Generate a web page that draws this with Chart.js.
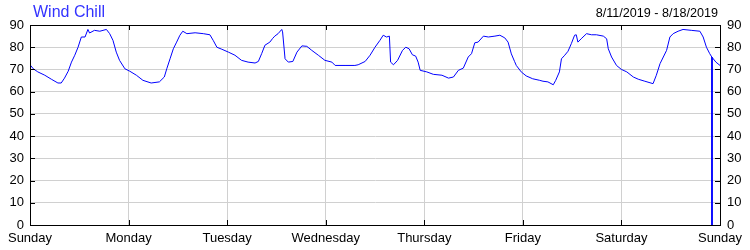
<!DOCTYPE html>
<html>
<head>
<meta charset="utf-8">
<script src="https://cdn.jsdelivr.net/npm/chart.js@4"></script>
<style>
  html, body { margin: 0; padding: 0; background: #fff; }
  #wrap { width: 750px; height: 250px; position: relative; }
</style>
</head>
<body>
<div id="wrap"><canvas id="c" width="750" height="250"></canvas></div>
<script>
const chartTitle = 'Wind Chill';
const dateRange = '8/11/2019 - 8/18/2019';
const dayLabels = ['Sunday', 'Monday', 'Tuesday', 'Wednesday', 'Thursday', 'Friday', 'Saturday', 'Sunday'];
const yTickValues = [0, 10, 20, 30, 40, 50, 60, 70, 80, 90];

// hours since start of week (Sunday 00:00)
const hours = [
  0, 0.8, 1.9, 3.6, 5.2, 6.8, 7.6, 8.4, 9.3, 10.1, 10.9, 11.7, 12.5, 13.4, 14.1, 14.5, 15.7, 17.0, 18.6, 19.4,
  20.2, 21.0, 21.8, 23.1, 24.3, 25.9, 27.5, 29.5, 31.5, 32.7, 33.3, 34.1, 34.9, 35.7, 36.5, 37.2, 38.2, 40.2, 42.2, 43.8,
  44.6, 45.5, 46.7, 48.3, 49.9, 51.5, 53.1, 54.8, 55.6, 56.4, 57.2, 58.4, 59.1, 59.6, 60.4, 61.3, 61.5, 62.1, 62.9, 64.0,
  65.0, 66.2, 67.4, 68.6, 70.2, 71.8, 73.5, 74.3, 76.7, 79.1, 79.9, 81.6, 82.8, 84.0, 85.2, 86.0, 86.8, 87.5, 87.8, 88.5,
  89.5, 90.7, 91.5, 92.3, 93.1, 93.9, 94.5, 95.0, 96.6, 98.2, 100.3, 101.9, 103.1, 104.3, 105.5, 106.7, 107.5, 108.3, 109.1, 110.4,
  111.6, 113.2, 114.4, 115.6, 116.4, 117.2, 118.0, 118.4, 119.6, 120.8, 122.4, 124.1, 124.9, 126.1, 127.4, 128.0, 128.9, 129.4, 130.2, 131.0,
  131.8, 132.6, 133.0, 133.4, 134.2, 135.5, 136.7, 137.9, 139.6, 140.4, 140.8, 141.6, 142.8, 144.0, 145.3, 146.9, 148.1, 149.7, 151.7, 152.5,
  153.4, 154.2, 155.0, 155.8, 156.6, 157.8, 159.0, 161.0, 163.1, 163.9, 164.7, 165.5, 166.0, 166.05, 166.1, 167.0, 168.0
];
const windChill = [
  72.1, 70.3, 68.9, 67.4, 65.6, 63.9, 63.9, 66.1, 69.2, 73.3, 76.4, 80.0, 84.6, 84.6, 88.0, 86.4, 87.6, 87.2, 88.0, 86.1,
  83.1, 77.8, 74.1, 70.3, 69.2, 67.4, 65.1, 63.9, 64.4, 66.6, 70.3, 74.8, 79.3, 82.3, 85.4, 87.2, 86.1, 86.5, 86.1, 85.6,
  83.1, 80.0, 79.1, 77.8, 76.4, 74.1, 73.3, 72.9, 73.6, 77.1, 80.9, 82.3, 84.0, 85.0, 86.1, 88.0, 86.9, 74.8, 73.3, 73.6,
  77.8, 80.6, 80.4, 78.6, 76.4, 74.1, 73.3, 71.8, 71.8, 71.8, 72.1, 73.6, 76.4, 80.0, 83.1, 85.4, 84.6, 85.0, 73.3, 72.1,
  74.1, 78.6, 80.0, 79.3, 76.6, 76.0, 73.3, 69.6, 68.9, 67.8, 67.4, 66.1, 66.6, 69.6, 70.6, 75.6, 77.1, 82.0, 82.3, 85.0,
  84.6, 85.0, 85.4, 84.2, 82.3, 77.0, 73.5, 71.8, 68.9, 67.1, 65.8, 65.1, 64.7, 64.4, 63.1, 65.1, 68.9, 74.8, 76.4, 78.2,
  81.6, 85.4, 85.6, 82.3, 83.8, 86.1, 85.6, 85.6, 85.0, 83.8, 79.3, 75.6, 71.8, 70.0, 68.9, 66.6, 65.6, 64.7, 63.6, 67.4,
  72.6, 75.6, 78.6, 84.6, 86.1, 87.2, 88.0, 87.6, 87.2, 84.6, 80.0, 77.1, 75.6, 0, 75.4, 73.3, 71.8
];

const FONT = 'Liberation Sans, Arial, sans-serif';

const framePlugin = {
  id: 'frame',
  afterDraw(chart) {
    const ctx = chart.ctx;
    const a = chart.chartArea;
    const xs = chart.scales.x, ys = chart.scales.y;
    ctx.save();
    ctx.strokeStyle = '#000';
    ctx.lineWidth = 1;
    ctx.strokeRect(Math.round(a.left) + 0.5, Math.round(a.top) + 0.5, Math.round(a.right - a.left), Math.round(a.bottom - a.top));
    ctx.beginPath();
    xs.ticks.forEach(t => {
      const px = Math.round(xs.getPixelForValue(t.value)) + 0.5;
      ctx.moveTo(px, a.top); ctx.lineTo(px, a.top + 5);
      ctx.moveTo(px, a.bottom); ctx.lineTo(px, a.bottom - 5);
    });
    ys.ticks.forEach(t => {
      const py = Math.round(ys.getPixelForValue(t.value)) + 0.5;
      ctx.moveTo(a.left, py); ctx.lineTo(a.left + 5, py);
      ctx.moveTo(a.right, py); ctx.lineTo(a.right - 5, py);
    });
    ctx.stroke();
    // titles
    ctx.textBaseline = 'alphabetic';
    ctx.fillStyle = '#3333ff';
    ctx.font = '16px ' + FONT;
    ctx.textAlign = 'left';
    ctx.fillText(chartTitle, 33, 17);
    ctx.fillStyle = '#000';
    ctx.font = '12.6px ' + FONT;
    ctx.textAlign = 'right';
    ctx.fillText(dateRange, 718, 17);
    ctx.restore();
  }
};

new Chart(document.getElementById('c'), {
  type: 'line',
  data: {
    datasets: [{
      data: hours.map((h, i) => ({ x: h, y: windChill[i] })),
      borderColor: '#0000ff',
      borderWidth: 1,
      pointRadius: 0,
      tension: 0,
      fill: false
    }]
  },
  options: {
    responsive: false,
    animation: false,
    layout: { padding: { top: 25, left: 0, right: 0, bottom: 0 } },
    plugins: { legend: { display: false }, tooltip: { enabled: false } },
    scales: {
      x: {
        type: 'linear', min: 0, max: 168,
        afterFit(s) { s.height = 25; },
        afterBuildTicks(s) { s.ticks = dayLabels.map((_, i) => ({ value: i * 24 })); },
        ticks: {
          autoSkip: false, maxRotation: 0, padding: 6,
          color: '#000', font: { family: FONT, size: 13 },
          callback: (v) => dayLabels[Math.round(v / 24)]
        },
        grid: { color: '#d0d0d0', drawTicks: false },
        border: { color: '#000' }
      },
      y: {
        min: 0, max: 90, position: 'left',
        afterFit(s) { s.width = 30; },
        afterBuildTicks(s) { s.ticks = yTickValues.map(v => ({ value: v })); },
        ticks: { padding: 6, color: '#000', font: { family: FONT, size: 13 } },
        grid: { color: '#d0d0d0', drawTicks: false },
        border: { color: '#000' }
      },
      y2: {
        min: 0, max: 90, position: 'right',
        afterFit(s) { s.width = 30; },
        afterBuildTicks(s) { s.ticks = yTickValues.map(v => ({ value: v })); },
        ticks: { padding: 7, color: '#000', font: { family: FONT, size: 13 } },
        grid: { display: false, drawTicks: false },
        border: { color: '#000' }
      }
    }
  },
  plugins: [framePlugin]
});
</script>
</body>
</html>
